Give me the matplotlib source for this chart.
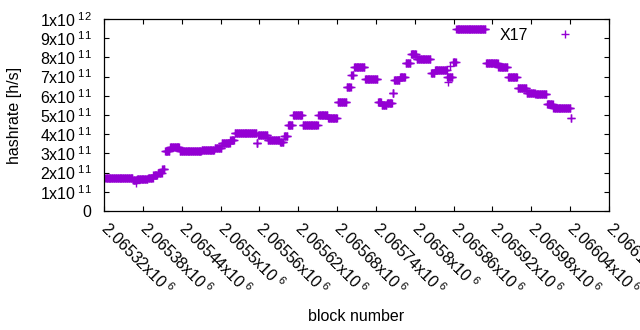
import numpy as np
import matplotlib
matplotlib.use('Agg')
import matplotlib.pyplot as plt
from matplotlib.lines import Line2D

plt.rcParams['font.family'] = ['Liberation Sans', 'DejaVu Sans']
plt.rcParams['mathtext.fontset'] = 'custom'
plt.rcParams['mathtext.rm'] = 'Liberation Sans'
plt.rcParams['mathtext.it'] = 'Liberation Sans'

# runs of (nearly) constant hashrate: first block of each run, value in 1e11 h/s
run_start = [2065322, 2065365, 2065371, 2065388, 2065396, 2065403, 2065410,
             2065414, 2065422, 2065437, 2065471, 2065491, 2065502, 2065515,
             2065522, 2065556, 2065558, 2065573, 2065592, 2065598, 2065604,
             2065612, 2065627, 2065651, 2065666, 2065681, 2065695, 2065702,
             2065706, 2065723, 2065743, 2065749, 2065757, 2065766, 2065768,
             2065777, 2065786, 2065794, 2065803, 2065825, 2065831, 2065850,
             2065859, 2065864, 2065910, 2065929, 2065944, 2065959, 2065973,
             2065986, 2066004, 2066014, 2066041]
run_value = [1.72, 1.60, 1.66, 1.74, 1.86, 2.00, 2.17,
             3.10, 3.35, 3.10, 3.20, 3.28, 3.55, 3.68,
             4.05, 3.55, 3.96, 3.72, 3.62, 3.90, 4.50,
             5.00, 4.50, 5.00, 4.85, 5.70, 6.45, 7.10,
             7.50, 6.90, 5.70, 5.50, 5.65, 6.15, 6.80,
             7.00, 7.70, 8.20, 7.90, 7.20, 7.35, 7.00,
             7.75, 9.50, 7.72, 7.50, 7.00, 6.40, 6.13,
             6.10, 5.57, 5.35, 4.87]
last_block = 2066043

# stray readings
out_block = [2065369, 2065556, 2065767, 2065851, 2065855]
out_value = [1.46, 3.55, 6.15, 6.70, 7.55]

xtick_vals = [2.06532, 2.06538, 2.06544, 2.0655, 2.06556, 2.06562, 2.06568,
              2.06574, 2.0658, 2.06586, 2.06592, 2.06598, 2.06604, 2.0661]
ytick_exp = [None, 11, 11, 11, 11, 11, 11, 11, 11, 11, 12]
ytick_mant = [0, 1, 2, 3, 4, 5, 6, 7, 8, 9, 1]

blocks, rates = [], []
ends = run_start[1:] + [last_block]
for s, e, v in zip(run_start, ends, run_value):
    for b in range(s, e):
        blocks.append(b)
        rates.append(v * 1e11)
blocks += out_block
rates += [v * 1e11 for v in out_value]

col = '#9400D3'
fs = 11.5
fig = plt.figure(figsize=(6.4, 3.3), dpi=100)
ax = fig.add_axes([0.1625, 0.3606, 0.7891, 0.5818])
ax.plot(blocks, rates, linestyle='none', marker='+', markersize=6,
        markeredgewidth=1.0, color=col)

ax.set_xlim(2065320, 2066100)
ax.set_ylim(0, 1e12)

xt = [round(v * 1e6) for v in xtick_vals]
ax.set_xticks(xt)
ax.set_xticklabels(['%gx10$^{\\ 6}$' % v for v in xtick_vals],
                   rotation=-45, ha='left', va='center', rotation_mode='anchor')
ax.set_yticks(np.arange(0, 11) * 1e11)
ylabs = []
for m, e in zip(ytick_mant, ytick_exp):
    ylabs.append('0' if e is None else '%dx10$^{\\ %d}$' % (m, e))
ax.set_yticklabels(ylabs)

ax.tick_params(direction='in', length=3.5, width=0.8, labelsize=fs,
               top=True, right=True, colors='black')
ax.tick_params(axis='x', pad=10)
ax.tick_params(axis='y', pad=9)
for sp in ax.spines.values():
    sp.set_linewidth(0.9)

ax.set_xlabel('block number', fontsize=fs, labelpad=0)
ax.xaxis.set_label_coords(0.5, -0.51)
ax.set_ylabel('hashrate [h/s]', fontsize=fs)
ax.yaxis.set_label_coords(-0.163, 0.5)

h = Line2D([], [], linestyle='none', marker='+', markersize=6,
           markeredgewidth=1.0, color=col)
ax.legend([h], ['X17'], loc='upper right', bbox_to_anchor=(0.972, 1.03),
          markerfirst=False, frameon=False, handlelength=2,
          handletextpad=1.3, fontsize=fs)

fig.savefig('out.png', dpi=100)
